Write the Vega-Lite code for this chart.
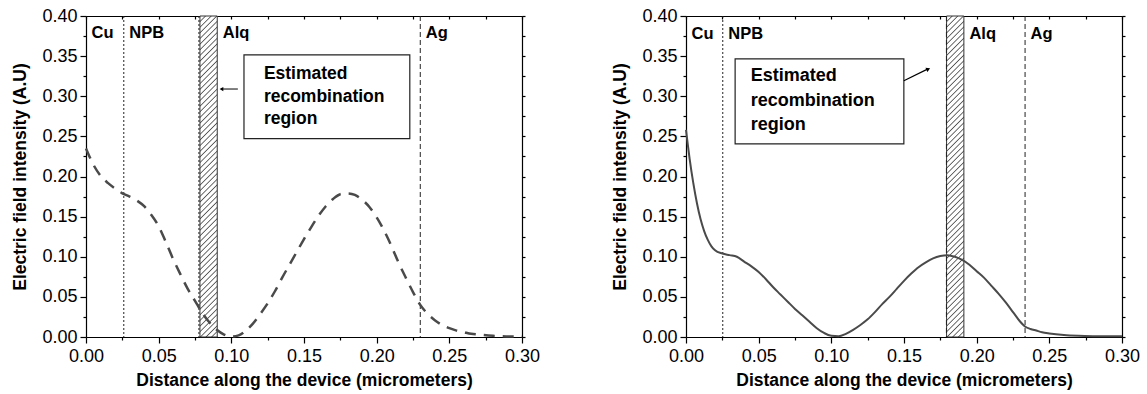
{
  "$schema": "https://vega.github.io/schema/vega-lite/v6.json",
  "background": "white",
  "padding": {"left": 11, "top": 7, "right": 5, "bottom": 5},
  "bounds": "flush",
  "spacing": 164,
  "hconcat": [
    {
      "width": 436,
      "height": 321,
      "data": {"values": [{}]},
      "resolve": {"axis": {"x": "independent", "y": "independent"}},
      "layer": [
        {
          "data": {"values": [{"start": 0.0784, "end": 0.0903}]},
          "mark": {"type": "rect", "stroke": "#333", "strokeWidth": 1,
            "fill": {"gradient": "linear", "x1": 0, "y1": 0, "x2": 0.0566, "y2": 1.051, "stops": [
          {"offset": 0, "color": "#555"}, {"offset": 0.0035, "color": "#fff"}, {"offset": 0.013, "color": "#fff"},
          {"offset": 0.0167, "color": "#555"}, {"offset": 0.0202, "color": "#fff"}, {"offset": 0.0297, "color": "#fff"},
          {"offset": 0.0333, "color": "#555"}, {"offset": 0.0368, "color": "#fff"}, {"offset": 0.0463, "color": "#fff"},
          {"offset": 0.05, "color": "#555"}, {"offset": 0.0535, "color": "#fff"}, {"offset": 0.063, "color": "#fff"},
          {"offset": 0.0667, "color": "#555"}, {"offset": 0.0702, "color": "#fff"}, {"offset": 0.0797, "color": "#fff"},
          {"offset": 0.0833, "color": "#555"}, {"offset": 0.0868, "color": "#fff"}, {"offset": 0.0963, "color": "#fff"},
          {"offset": 0.1, "color": "#555"}, {"offset": 0.1035, "color": "#fff"}, {"offset": 0.113, "color": "#fff"},
          {"offset": 0.1167, "color": "#555"}, {"offset": 0.1202, "color": "#fff"}, {"offset": 0.1297, "color": "#fff"},
          {"offset": 0.1333, "color": "#555"}, {"offset": 0.1368, "color": "#fff"}, {"offset": 0.1463, "color": "#fff"},
          {"offset": 0.15, "color": "#555"}, {"offset": 0.1535, "color": "#fff"}, {"offset": 0.163, "color": "#fff"},
          {"offset": 0.1667, "color": "#555"}, {"offset": 0.1702, "color": "#fff"}, {"offset": 0.1797, "color": "#fff"},
          {"offset": 0.1833, "color": "#555"}, {"offset": 0.1868, "color": "#fff"}, {"offset": 0.1963, "color": "#fff"},
          {"offset": 0.2, "color": "#555"}, {"offset": 0.2035, "color": "#fff"}, {"offset": 0.213, "color": "#fff"},
          {"offset": 0.2167, "color": "#555"}, {"offset": 0.2202, "color": "#fff"}, {"offset": 0.2297, "color": "#fff"},
          {"offset": 0.2333, "color": "#555"}, {"offset": 0.2368, "color": "#fff"}, {"offset": 0.2463, "color": "#fff"},
          {"offset": 0.25, "color": "#555"}, {"offset": 0.2535, "color": "#fff"}, {"offset": 0.263, "color": "#fff"},
          {"offset": 0.2667, "color": "#555"}, {"offset": 0.2702, "color": "#fff"}, {"offset": 0.2797, "color": "#fff"},
          {"offset": 0.2833, "color": "#555"}, {"offset": 0.2868, "color": "#fff"}, {"offset": 0.2963, "color": "#fff"},
          {"offset": 0.3, "color": "#555"}, {"offset": 0.3035, "color": "#fff"}, {"offset": 0.313, "color": "#fff"},
          {"offset": 0.3167, "color": "#555"}, {"offset": 0.3202, "color": "#fff"}, {"offset": 0.3297, "color": "#fff"},
          {"offset": 0.3333, "color": "#555"}, {"offset": 0.3368, "color": "#fff"}, {"offset": 0.3463, "color": "#fff"},
          {"offset": 0.35, "color": "#555"}, {"offset": 0.3535, "color": "#fff"}, {"offset": 0.363, "color": "#fff"},
          {"offset": 0.3667, "color": "#555"}, {"offset": 0.3702, "color": "#fff"}, {"offset": 0.3797, "color": "#fff"},
          {"offset": 0.3833, "color": "#555"}, {"offset": 0.3868, "color": "#fff"}, {"offset": 0.3963, "color": "#fff"},
          {"offset": 0.4, "color": "#555"}, {"offset": 0.4035, "color": "#fff"}, {"offset": 0.413, "color": "#fff"},
          {"offset": 0.4167, "color": "#555"}, {"offset": 0.4202, "color": "#fff"}, {"offset": 0.4297, "color": "#fff"},
          {"offset": 0.4333, "color": "#555"}, {"offset": 0.4368, "color": "#fff"}, {"offset": 0.4463, "color": "#fff"},
          {"offset": 0.45, "color": "#555"}, {"offset": 0.4535, "color": "#fff"}, {"offset": 0.463, "color": "#fff"},
          {"offset": 0.4667, "color": "#555"}, {"offset": 0.4702, "color": "#fff"}, {"offset": 0.4797, "color": "#fff"},
          {"offset": 0.4833, "color": "#555"}, {"offset": 0.4868, "color": "#fff"}, {"offset": 0.4963, "color": "#fff"},
          {"offset": 0.5, "color": "#555"}, {"offset": 0.5035, "color": "#fff"}, {"offset": 0.513, "color": "#fff"},
          {"offset": 0.5167, "color": "#555"}, {"offset": 0.5202, "color": "#fff"}, {"offset": 0.5297, "color": "#fff"},
          {"offset": 0.5333, "color": "#555"}, {"offset": 0.5368, "color": "#fff"}, {"offset": 0.5463, "color": "#fff"},
          {"offset": 0.55, "color": "#555"}, {"offset": 0.5535, "color": "#fff"}, {"offset": 0.563, "color": "#fff"},
          {"offset": 0.5667, "color": "#555"}, {"offset": 0.5702, "color": "#fff"}, {"offset": 0.5797, "color": "#fff"},
          {"offset": 0.5833, "color": "#555"}, {"offset": 0.5868, "color": "#fff"}, {"offset": 0.5963, "color": "#fff"},
          {"offset": 0.6, "color": "#555"}, {"offset": 0.6035, "color": "#fff"}, {"offset": 0.613, "color": "#fff"},
          {"offset": 0.6167, "color": "#555"}, {"offset": 0.6202, "color": "#fff"}, {"offset": 0.6297, "color": "#fff"},
          {"offset": 0.6333, "color": "#555"}, {"offset": 0.6368, "color": "#fff"}, {"offset": 0.6463, "color": "#fff"},
          {"offset": 0.65, "color": "#555"}, {"offset": 0.6535, "color": "#fff"}, {"offset": 0.663, "color": "#fff"},
          {"offset": 0.6667, "color": "#555"}, {"offset": 0.6702, "color": "#fff"}, {"offset": 0.6797, "color": "#fff"},
          {"offset": 0.6833, "color": "#555"}, {"offset": 0.6868, "color": "#fff"}, {"offset": 0.6963, "color": "#fff"},
          {"offset": 0.7, "color": "#555"}, {"offset": 0.7035, "color": "#fff"}, {"offset": 0.713, "color": "#fff"},
          {"offset": 0.7167, "color": "#555"}, {"offset": 0.7202, "color": "#fff"}, {"offset": 0.7297, "color": "#fff"},
          {"offset": 0.7333, "color": "#555"}, {"offset": 0.7368, "color": "#fff"}, {"offset": 0.7463, "color": "#fff"},
          {"offset": 0.75, "color": "#555"}, {"offset": 0.7535, "color": "#fff"}, {"offset": 0.763, "color": "#fff"},
          {"offset": 0.7667, "color": "#555"}, {"offset": 0.7702, "color": "#fff"}, {"offset": 0.7797, "color": "#fff"},
          {"offset": 0.7833, "color": "#555"}, {"offset": 0.7868, "color": "#fff"}, {"offset": 0.7963, "color": "#fff"},
          {"offset": 0.8, "color": "#555"}, {"offset": 0.8035, "color": "#fff"}, {"offset": 0.813, "color": "#fff"},
          {"offset": 0.8167, "color": "#555"}, {"offset": 0.8202, "color": "#fff"}, {"offset": 0.8297, "color": "#fff"},
          {"offset": 0.8333, "color": "#555"}, {"offset": 0.8368, "color": "#fff"}, {"offset": 0.8463, "color": "#fff"},
          {"offset": 0.85, "color": "#555"}, {"offset": 0.8535, "color": "#fff"}, {"offset": 0.863, "color": "#fff"},
          {"offset": 0.8667, "color": "#555"}, {"offset": 0.8702, "color": "#fff"}, {"offset": 0.8797, "color": "#fff"},
          {"offset": 0.8833, "color": "#555"}, {"offset": 0.8868, "color": "#fff"}, {"offset": 0.8963, "color": "#fff"},
          {"offset": 0.9, "color": "#555"}, {"offset": 0.9035, "color": "#fff"}, {"offset": 0.913, "color": "#fff"},
          {"offset": 0.9167, "color": "#555"}, {"offset": 0.9202, "color": "#fff"}, {"offset": 0.9297, "color": "#fff"},
          {"offset": 0.9333, "color": "#555"}, {"offset": 0.9368, "color": "#fff"}, {"offset": 0.9463, "color": "#fff"},
          {"offset": 0.95, "color": "#555"}, {"offset": 0.9535, "color": "#fff"}, {"offset": 0.963, "color": "#fff"},
          {"offset": 0.9667, "color": "#555"}, {"offset": 0.9702, "color": "#fff"}, {"offset": 0.9797, "color": "#fff"},
          {"offset": 0.9833, "color": "#555"}, {"offset": 0.9868, "color": "#fff"}, {"offset": 0.9963, "color": "#fff"},
          {"offset": 1, "color": "#555"}
        ]}},
          "encoding": {
            "x": {"field": "start", "type": "quantitative", "scale": {"domain": [0, 0.3], "nice": false},
              "axis": {"orient": "bottom", "values": [0, 0.05, 0.1, 0.15, 0.2, 0.25, 0.3], "format": ".2f", "title": "Distance along the device (micrometers)", "tickSize": 6, "labelPadding": 4, "titlePadding": 6}},
            "x2": {"field": "end"},
            "y": {"datum": 0, "type": "quantitative", "scale": {"domain": [0, 0.4], "nice": false},
              "axis": {"orient": "left", "values": [0, 0.05, 0.1, 0.15, 0.2, 0.25, 0.3, 0.35, 0.4], "format": ".2f", "title": "Electric field intensity (A.U)", "tickSize": 6, "labelPadding": 3, "titlePadding": 12}},
            "y2": {"datum": 0.4}
          }
        },
        {
          "data": {"values": [{"pos": 0.026, "kind": "dotted"}, {"pos": 0.0777, "kind": "dotted"}, {"pos": 0.23, "kind": "dashed"}]},
          "mark": {"type": "rule", "color": "#222", "strokeWidth": 1},
          "encoding": {
            "x": {"field": "pos", "type": "quantitative", "scale": {"domain": [0, 0.3], "nice": false},
              "axis": {"orient": "bottom", "values": [0.025, 0.075, 0.125, 0.175, 0.225, 0.275], "labels": false, "title": null, "tickSize": 3, "domain": false}},
            "strokeDash": {"field": "kind", "type": "nominal", "scale": {"domain": ["dotted", "dashed"], "range": [[2, 2], [5, 3]]}, "legend": null}
          }
        },
        {
          "data": {"values": [
            {"x": 0, "y": 0.235}, {"x": 0.005, "y": 0.215}, {"x": 0.01, "y": 0.201}, {"x": 0.015, "y": 0.192},
            {"x": 0.02, "y": 0.185}, {"x": 0.025, "y": 0.179}, {"x": 0.03, "y": 0.175}, {"x": 0.035, "y": 0.17},
            {"x": 0.04, "y": 0.163}, {"x": 0.045, "y": 0.152}, {"x": 0.05, "y": 0.138}, {"x": 0.055, "y": 0.118},
            {"x": 0.06, "y": 0.097}, {"x": 0.065, "y": 0.078}, {"x": 0.07, "y": 0.06}, {"x": 0.075, "y": 0.045},
            {"x": 0.08, "y": 0.03}, {"x": 0.085, "y": 0.018}, {"x": 0.09, "y": 0.009}, {"x": 0.095, "y": 0.003},
            {"x": 0.1, "y": 0.0005}, {"x": 0.105, "y": 0.002}, {"x": 0.11, "y": 0.008}, {"x": 0.115, "y": 0.017},
            {"x": 0.12, "y": 0.029}, {"x": 0.125, "y": 0.042}, {"x": 0.13, "y": 0.057}, {"x": 0.135, "y": 0.074},
            {"x": 0.14, "y": 0.09}, {"x": 0.145, "y": 0.106}, {"x": 0.15, "y": 0.122}, {"x": 0.155, "y": 0.137},
            {"x": 0.16, "y": 0.151}, {"x": 0.165, "y": 0.163}, {"x": 0.17, "y": 0.172}, {"x": 0.175, "y": 0.178},
            {"x": 0.18, "y": 0.179}, {"x": 0.185, "y": 0.177}, {"x": 0.19, "y": 0.171}, {"x": 0.195, "y": 0.162},
            {"x": 0.2, "y": 0.149}, {"x": 0.205, "y": 0.133}, {"x": 0.21, "y": 0.114}, {"x": 0.215, "y": 0.093},
            {"x": 0.22, "y": 0.074}, {"x": 0.225, "y": 0.056}, {"x": 0.23, "y": 0.04}, {"x": 0.235, "y": 0.029},
            {"x": 0.24, "y": 0.021}, {"x": 0.245, "y": 0.015}, {"x": 0.25, "y": 0.011}, {"x": 0.255, "y": 0.008},
            {"x": 0.26, "y": 0.006}, {"x": 0.265, "y": 0.004}, {"x": 0.27, "y": 0.003}, {"x": 0.28, "y": 0.0015},
            {"x": 0.29, "y": 0.0007}, {"x": 0.3, "y": 0.0003}
          ]},
          "mark": {"type": "line", "color": "#4a4a4a", "strokeWidth": 2.5, "strokeDash": [11, 8], "interpolate": "monotone"},
          "encoding": {
            "x": {"field": "x", "type": "quantitative", "scale": {"domain": [0, 0.3], "nice": false},
              "axis": {"orient": "top", "values": [0, 0.025, 0.05, 0.075, 0.1, 0.125, 0.15, 0.175, 0.2, 0.225, 0.25, 0.275, 0.3], "labels": false, "title": null, "tickSize": -3}},
            "y": {"field": "y", "type": "quantitative", "scale": {"domain": [0, 0.4], "nice": false},
              "axis": {"orient": "right", "values": [0, 0.025, 0.05, 0.075, 0.1, 0.125, 0.15, 0.175, 0.2, 0.225, 0.25, 0.275, 0.3, 0.325, 0.35, 0.375, 0.4], "labels": false, "title": null, "tickSize": 3}}
          }
        },
        {
          "data": {"values": [{"layer": "Cu", "start": 0}, {"layer": "NPB", "start": 0.026}, {"layer": "Alq", "start": 0.0903}, {"layer": "Ag", "start": 0.23}]},
          "mark": {"type": "text", "align": "left", "baseline": "middle", "dx": 5.5, "fontSize": 16.5, "fontWeight": "bold", "color": "#000"},
          "encoding": {
            "x": {"field": "start", "type": "quantitative", "scale": {"domain": [0, 0.3], "nice": false}, "axis": null},
            "y": {"datum": 0.379, "type": "quantitative", "scale": {"domain": [0, 0.4], "nice": false},
              "axis": {"orient": "left", "values": [0.025, 0.075, 0.125, 0.175, 0.225, 0.275, 0.325, 0.375], "labels": false, "title": null, "tickSize": 3, "domain": false}},
            "text": {"field": "layer"}
          }
        },
        {
          "mark": {"type": "rect", "fill": "#fff", "stroke": "#222", "strokeWidth": 1.2},
          "encoding": {
            "x": {"datum": 0.1087, "type": "quantitative", "scale": {"domain": [0, 0.3], "nice": false}, "axis": null},
            "x2": {"datum": 0.2228},
            "y": {"datum": 0.3516, "type": "quantitative", "scale": {"domain": [0, 0.4], "nice": false}, "axis": null},
            "y2": {"datum": 0.2472}
          }
        },
        {
          "mark": {"type": "text", "text": ["Estimated", "recombination", "region"], "align": "left", "baseline": "middle", "lineHeight": 22.5, "fontSize": 17.5, "fontWeight": "bold", "color": "#000"},
          "encoding": {
            "x": {"datum": 0.1224, "type": "quantitative", "scale": {"domain": [0, 0.3], "nice": false}, "axis": null},
            "y": {"datum": 0.3276, "type": "quantitative", "scale": {"domain": [0, 0.4], "nice": false}, "axis": null}
          }
        },
        {
          "mark": {"type": "rule", "color": "#000", "strokeWidth": 1},
          "encoding": {
            "x": {"datum": 0.1045, "type": "quantitative", "scale": {"domain": [0, 0.3], "nice": false}, "axis": null},
            "x2": {"datum": 0.093},
            "y": {"datum": 0.309, "type": "quantitative", "scale": {"domain": [0, 0.4], "nice": false}, "axis": null},
            "y2": {"datum": 0.309}
          }
        },
        {
          "mark": {"type": "point", "shape": "triangle-left", "filled": true, "color": "#000", "size": 18, "opacity": 1},
          "encoding": {
            "x": {"datum": 0.0932, "type": "quantitative", "scale": {"domain": [0, 0.3], "nice": false}, "axis": null},
            "y": {"datum": 0.309, "type": "quantitative", "scale": {"domain": [0, 0.4], "nice": false}, "axis": null}
          }
        }
      ]
    },
    {
      "width": 436,
      "height": 321,
      "data": {"values": [{}]},
      "resolve": {"axis": {"x": "independent", "y": "independent"}},
      "layer": [
        {
          "data": {"values": [{"start": 0.1793, "end": 0.1912}]},
          "mark": {"type": "rect", "stroke": "#333", "strokeWidth": 1,
            "fill": {"gradient": "linear", "x1": 0, "y1": 0, "x2": 0.0566, "y2": 1.051, "stops": [
          {"offset": 0, "color": "#555"}, {"offset": 0.0035, "color": "#fff"}, {"offset": 0.013, "color": "#fff"},
          {"offset": 0.0167, "color": "#555"}, {"offset": 0.0202, "color": "#fff"}, {"offset": 0.0297, "color": "#fff"},
          {"offset": 0.0333, "color": "#555"}, {"offset": 0.0368, "color": "#fff"}, {"offset": 0.0463, "color": "#fff"},
          {"offset": 0.05, "color": "#555"}, {"offset": 0.0535, "color": "#fff"}, {"offset": 0.063, "color": "#fff"},
          {"offset": 0.0667, "color": "#555"}, {"offset": 0.0702, "color": "#fff"}, {"offset": 0.0797, "color": "#fff"},
          {"offset": 0.0833, "color": "#555"}, {"offset": 0.0868, "color": "#fff"}, {"offset": 0.0963, "color": "#fff"},
          {"offset": 0.1, "color": "#555"}, {"offset": 0.1035, "color": "#fff"}, {"offset": 0.113, "color": "#fff"},
          {"offset": 0.1167, "color": "#555"}, {"offset": 0.1202, "color": "#fff"}, {"offset": 0.1297, "color": "#fff"},
          {"offset": 0.1333, "color": "#555"}, {"offset": 0.1368, "color": "#fff"}, {"offset": 0.1463, "color": "#fff"},
          {"offset": 0.15, "color": "#555"}, {"offset": 0.1535, "color": "#fff"}, {"offset": 0.163, "color": "#fff"},
          {"offset": 0.1667, "color": "#555"}, {"offset": 0.1702, "color": "#fff"}, {"offset": 0.1797, "color": "#fff"},
          {"offset": 0.1833, "color": "#555"}, {"offset": 0.1868, "color": "#fff"}, {"offset": 0.1963, "color": "#fff"},
          {"offset": 0.2, "color": "#555"}, {"offset": 0.2035, "color": "#fff"}, {"offset": 0.213, "color": "#fff"},
          {"offset": 0.2167, "color": "#555"}, {"offset": 0.2202, "color": "#fff"}, {"offset": 0.2297, "color": "#fff"},
          {"offset": 0.2333, "color": "#555"}, {"offset": 0.2368, "color": "#fff"}, {"offset": 0.2463, "color": "#fff"},
          {"offset": 0.25, "color": "#555"}, {"offset": 0.2535, "color": "#fff"}, {"offset": 0.263, "color": "#fff"},
          {"offset": 0.2667, "color": "#555"}, {"offset": 0.2702, "color": "#fff"}, {"offset": 0.2797, "color": "#fff"},
          {"offset": 0.2833, "color": "#555"}, {"offset": 0.2868, "color": "#fff"}, {"offset": 0.2963, "color": "#fff"},
          {"offset": 0.3, "color": "#555"}, {"offset": 0.3035, "color": "#fff"}, {"offset": 0.313, "color": "#fff"},
          {"offset": 0.3167, "color": "#555"}, {"offset": 0.3202, "color": "#fff"}, {"offset": 0.3297, "color": "#fff"},
          {"offset": 0.3333, "color": "#555"}, {"offset": 0.3368, "color": "#fff"}, {"offset": 0.3463, "color": "#fff"},
          {"offset": 0.35, "color": "#555"}, {"offset": 0.3535, "color": "#fff"}, {"offset": 0.363, "color": "#fff"},
          {"offset": 0.3667, "color": "#555"}, {"offset": 0.3702, "color": "#fff"}, {"offset": 0.3797, "color": "#fff"},
          {"offset": 0.3833, "color": "#555"}, {"offset": 0.3868, "color": "#fff"}, {"offset": 0.3963, "color": "#fff"},
          {"offset": 0.4, "color": "#555"}, {"offset": 0.4035, "color": "#fff"}, {"offset": 0.413, "color": "#fff"},
          {"offset": 0.4167, "color": "#555"}, {"offset": 0.4202, "color": "#fff"}, {"offset": 0.4297, "color": "#fff"},
          {"offset": 0.4333, "color": "#555"}, {"offset": 0.4368, "color": "#fff"}, {"offset": 0.4463, "color": "#fff"},
          {"offset": 0.45, "color": "#555"}, {"offset": 0.4535, "color": "#fff"}, {"offset": 0.463, "color": "#fff"},
          {"offset": 0.4667, "color": "#555"}, {"offset": 0.4702, "color": "#fff"}, {"offset": 0.4797, "color": "#fff"},
          {"offset": 0.4833, "color": "#555"}, {"offset": 0.4868, "color": "#fff"}, {"offset": 0.4963, "color": "#fff"},
          {"offset": 0.5, "color": "#555"}, {"offset": 0.5035, "color": "#fff"}, {"offset": 0.513, "color": "#fff"},
          {"offset": 0.5167, "color": "#555"}, {"offset": 0.5202, "color": "#fff"}, {"offset": 0.5297, "color": "#fff"},
          {"offset": 0.5333, "color": "#555"}, {"offset": 0.5368, "color": "#fff"}, {"offset": 0.5463, "color": "#fff"},
          {"offset": 0.55, "color": "#555"}, {"offset": 0.5535, "color": "#fff"}, {"offset": 0.563, "color": "#fff"},
          {"offset": 0.5667, "color": "#555"}, {"offset": 0.5702, "color": "#fff"}, {"offset": 0.5797, "color": "#fff"},
          {"offset": 0.5833, "color": "#555"}, {"offset": 0.5868, "color": "#fff"}, {"offset": 0.5963, "color": "#fff"},
          {"offset": 0.6, "color": "#555"}, {"offset": 0.6035, "color": "#fff"}, {"offset": 0.613, "color": "#fff"},
          {"offset": 0.6167, "color": "#555"}, {"offset": 0.6202, "color": "#fff"}, {"offset": 0.6297, "color": "#fff"},
          {"offset": 0.6333, "color": "#555"}, {"offset": 0.6368, "color": "#fff"}, {"offset": 0.6463, "color": "#fff"},
          {"offset": 0.65, "color": "#555"}, {"offset": 0.6535, "color": "#fff"}, {"offset": 0.663, "color": "#fff"},
          {"offset": 0.6667, "color": "#555"}, {"offset": 0.6702, "color": "#fff"}, {"offset": 0.6797, "color": "#fff"},
          {"offset": 0.6833, "color": "#555"}, {"offset": 0.6868, "color": "#fff"}, {"offset": 0.6963, "color": "#fff"},
          {"offset": 0.7, "color": "#555"}, {"offset": 0.7035, "color": "#fff"}, {"offset": 0.713, "color": "#fff"},
          {"offset": 0.7167, "color": "#555"}, {"offset": 0.7202, "color": "#fff"}, {"offset": 0.7297, "color": "#fff"},
          {"offset": 0.7333, "color": "#555"}, {"offset": 0.7368, "color": "#fff"}, {"offset": 0.7463, "color": "#fff"},
          {"offset": 0.75, "color": "#555"}, {"offset": 0.7535, "color": "#fff"}, {"offset": 0.763, "color": "#fff"},
          {"offset": 0.7667, "color": "#555"}, {"offset": 0.7702, "color": "#fff"}, {"offset": 0.7797, "color": "#fff"},
          {"offset": 0.7833, "color": "#555"}, {"offset": 0.7868, "color": "#fff"}, {"offset": 0.7963, "color": "#fff"},
          {"offset": 0.8, "color": "#555"}, {"offset": 0.8035, "color": "#fff"}, {"offset": 0.813, "color": "#fff"},
          {"offset": 0.8167, "color": "#555"}, {"offset": 0.8202, "color": "#fff"}, {"offset": 0.8297, "color": "#fff"},
          {"offset": 0.8333, "color": "#555"}, {"offset": 0.8368, "color": "#fff"}, {"offset": 0.8463, "color": "#fff"},
          {"offset": 0.85, "color": "#555"}, {"offset": 0.8535, "color": "#fff"}, {"offset": 0.863, "color": "#fff"},
          {"offset": 0.8667, "color": "#555"}, {"offset": 0.8702, "color": "#fff"}, {"offset": 0.8797, "color": "#fff"},
          {"offset": 0.8833, "color": "#555"}, {"offset": 0.8868, "color": "#fff"}, {"offset": 0.8963, "color": "#fff"},
          {"offset": 0.9, "color": "#555"}, {"offset": 0.9035, "color": "#fff"}, {"offset": 0.913, "color": "#fff"},
          {"offset": 0.9167, "color": "#555"}, {"offset": 0.9202, "color": "#fff"}, {"offset": 0.9297, "color": "#fff"},
          {"offset": 0.9333, "color": "#555"}, {"offset": 0.9368, "color": "#fff"}, {"offset": 0.9463, "color": "#fff"},
          {"offset": 0.95, "color": "#555"}, {"offset": 0.9535, "color": "#fff"}, {"offset": 0.963, "color": "#fff"},
          {"offset": 0.9667, "color": "#555"}, {"offset": 0.9702, "color": "#fff"}, {"offset": 0.9797, "color": "#fff"},
          {"offset": 0.9833, "color": "#555"}, {"offset": 0.9868, "color": "#fff"}, {"offset": 0.9963, "color": "#fff"},
          {"offset": 1, "color": "#555"}
        ]}},
          "encoding": {
            "x": {"field": "start", "type": "quantitative", "scale": {"domain": [0, 0.3], "nice": false},
              "axis": {"orient": "bottom", "values": [0, 0.05, 0.1, 0.15, 0.2, 0.25, 0.3], "format": ".2f", "title": "Distance along the device (micrometers)", "tickSize": 6, "labelPadding": 4, "titlePadding": 6}},
            "x2": {"field": "end"},
            "y": {"datum": 0, "type": "quantitative", "scale": {"domain": [0, 0.4], "nice": false},
              "axis": {"orient": "left", "values": [0, 0.05, 0.1, 0.15, 0.2, 0.25, 0.3, 0.35, 0.4], "format": ".2f", "title": "Electric field intensity (A.U)", "tickSize": 6, "labelPadding": 3, "titlePadding": 12}},
            "y2": {"datum": 0.4}
          }
        },
        {
          "data": {"values": [{"pos": 0.0253, "kind": "dotted"}, {"pos": 0.1792, "kind": "dashed"}, {"pos": 0.2333, "kind": "dashed"}]},
          "mark": {"type": "rule", "color": "#222", "strokeWidth": 1},
          "encoding": {
            "x": {"field": "pos", "type": "quantitative", "scale": {"domain": [0, 0.3], "nice": false},
              "axis": {"orient": "bottom", "values": [0.025, 0.075, 0.125, 0.175, 0.225, 0.275], "labels": false, "title": null, "tickSize": 3, "domain": false}},
            "strokeDash": {"field": "kind", "type": "nominal", "scale": {"domain": ["dotted", "dashed"], "range": [[2, 2], [5, 3]]}, "legend": null}
          }
        },
        {
          "data": {"values": [
            {"x": 0, "y": 0.258}, {"x": 0.0025, "y": 0.222}, {"x": 0.005, "y": 0.192}, {"x": 0.0075, "y": 0.167},
            {"x": 0.01, "y": 0.147}, {"x": 0.0125, "y": 0.132}, {"x": 0.015, "y": 0.121}, {"x": 0.0175, "y": 0.113},
            {"x": 0.02, "y": 0.108}, {"x": 0.025, "y": 0.104}, {"x": 0.03, "y": 0.102}, {"x": 0.035, "y": 0.1},
            {"x": 0.04, "y": 0.094}, {"x": 0.045, "y": 0.088}, {"x": 0.05, "y": 0.081}, {"x": 0.055, "y": 0.072},
            {"x": 0.06, "y": 0.062}, {"x": 0.065, "y": 0.053}, {"x": 0.07, "y": 0.044}, {"x": 0.075, "y": 0.035},
            {"x": 0.08, "y": 0.027}, {"x": 0.085, "y": 0.019}, {"x": 0.09, "y": 0.011}, {"x": 0.095, "y": 0.005},
            {"x": 0.1, "y": 0.0015}, {"x": 0.105, "y": 0.001}, {"x": 0.11, "y": 0.004}, {"x": 0.115, "y": 0.009},
            {"x": 0.12, "y": 0.015}, {"x": 0.125, "y": 0.022}, {"x": 0.13, "y": 0.031}, {"x": 0.135, "y": 0.041},
            {"x": 0.14, "y": 0.05}, {"x": 0.145, "y": 0.06}, {"x": 0.15, "y": 0.07}, {"x": 0.155, "y": 0.079},
            {"x": 0.16, "y": 0.087}, {"x": 0.165, "y": 0.093}, {"x": 0.17, "y": 0.098}, {"x": 0.175, "y": 0.101},
            {"x": 0.18, "y": 0.102}, {"x": 0.185, "y": 0.1}, {"x": 0.19, "y": 0.096}, {"x": 0.195, "y": 0.09},
            {"x": 0.2, "y": 0.082}, {"x": 0.205, "y": 0.074}, {"x": 0.21, "y": 0.064}, {"x": 0.215, "y": 0.054},
            {"x": 0.22, "y": 0.043}, {"x": 0.225, "y": 0.031}, {"x": 0.23, "y": 0.019}, {"x": 0.233, "y": 0.0135},
            {"x": 0.237, "y": 0.01}, {"x": 0.241, "y": 0.008}, {"x": 0.245, "y": 0.006}, {"x": 0.25, "y": 0.0045},
            {"x": 0.26, "y": 0.0025}, {"x": 0.27, "y": 0.0015}, {"x": 0.28, "y": 0.001}, {"x": 0.29, "y": 0.0008},
            {"x": 0.3, "y": 0.001}
          ]},
          "mark": {"type": "line", "color": "#4a4a4a", "strokeWidth": 2, "interpolate": "monotone"},
          "encoding": {
            "x": {"field": "x", "type": "quantitative", "scale": {"domain": [0, 0.3], "nice": false},
              "axis": {"orient": "top", "values": [0, 0.025, 0.05, 0.075, 0.1, 0.125, 0.15, 0.175, 0.2, 0.225, 0.25, 0.275, 0.3], "labels": false, "title": null, "tickSize": -3}},
            "y": {"field": "y", "type": "quantitative", "scale": {"domain": [0, 0.4], "nice": false},
              "axis": {"orient": "right", "values": [0, 0.025, 0.05, 0.075, 0.1, 0.125, 0.15, 0.175, 0.2, 0.225, 0.25, 0.275, 0.3, 0.325, 0.35, 0.375, 0.4], "labels": false, "title": null, "tickSize": 3}}
          }
        },
        {
          "data": {"values": [{"layer": "Cu", "start": 0}, {"layer": "NPB", "start": 0.0253}, {"layer": "Alq", "start": 0.1912}, {"layer": "Ag", "start": 0.2333}]},
          "mark": {"type": "text", "align": "left", "baseline": "middle", "dx": 5.5, "fontSize": 16.5, "fontWeight": "bold", "color": "#000"},
          "encoding": {
            "x": {"field": "start", "type": "quantitative", "scale": {"domain": [0, 0.3], "nice": false}, "axis": null},
            "y": {"datum": 0.377, "type": "quantitative", "scale": {"domain": [0, 0.4], "nice": false},
              "axis": {"orient": "left", "values": [0.025, 0.075, 0.125, 0.175, 0.225, 0.275, 0.325, 0.375], "labels": false, "title": null, "tickSize": 3, "domain": false}},
            "text": {"field": "layer"}
          }
        },
        {
          "mark": {"type": "rect", "fill": "#fff", "stroke": "#222", "strokeWidth": 1.2},
          "encoding": {
            "x": {"datum": 0.0338, "type": "quantitative", "scale": {"domain": [0, 0.3], "nice": false}, "axis": null},
            "x2": {"datum": 0.1499},
            "y": {"datum": 0.3465, "type": "quantitative", "scale": {"domain": [0, 0.4], "nice": false}, "axis": null},
            "y2": {"datum": 0.2406}
          }
        },
        {
          "mark": {"type": "text", "text": ["Estimated", "recombination", "region"], "align": "left", "baseline": "middle", "lineHeight": 24.5, "fontSize": 18, "fontWeight": "bold", "color": "#000"},
          "encoding": {
            "x": {"datum": 0.0446, "type": "quantitative", "scale": {"domain": [0, 0.3], "nice": false}, "axis": null},
            "y": {"datum": 0.3248, "type": "quantitative", "scale": {"domain": [0, 0.4], "nice": false}, "axis": null}
          }
        },
        {
          "mark": {"type": "rule", "color": "#000", "strokeWidth": 1.2},
          "encoding": {
            "x": {"datum": 0.1499, "type": "quantitative", "scale": {"domain": [0, 0.3], "nice": false}, "axis": null},
            "x2": {"datum": 0.1665},
            "y": {"datum": 0.3194, "type": "quantitative", "scale": {"domain": [0, 0.4], "nice": false}, "axis": null},
            "y2": {"datum": 0.3341}
          }
        },
        {
          "mark": {"type": "point", "shape": "triangle-right", "angle": -25, "filled": true, "color": "#000", "size": 22, "opacity": 1},
          "encoding": {
            "x": {"datum": 0.1667, "type": "quantitative", "scale": {"domain": [0, 0.3], "nice": false}, "axis": null},
            "y": {"datum": 0.3339, "type": "quantitative", "scale": {"domain": [0, 0.4], "nice": false}, "axis": null}
          }
        }
      ]
    }
  ],
  "config": {
    "view": {"stroke": null},
    "font": "Liberation Sans",
    "axis": {
      "grid": false, "zindex": 1,
      "domainColor": "#000", "domainWidth": 1.2, "tickColor": "#000", "tickWidth": 1.2,
      "labelColor": "#000", "titleColor": "#000",
      "labelFont": "Liberation Sans", "titleFont": "Liberation Sans",
      "labelFontSize": 18, "labelFontWeight": "normal",
      "titleFontSize": 17.5, "titleFontWeight": "bold",
      "labelFlush": false, "labelOverlap": false
    }
  }
}
